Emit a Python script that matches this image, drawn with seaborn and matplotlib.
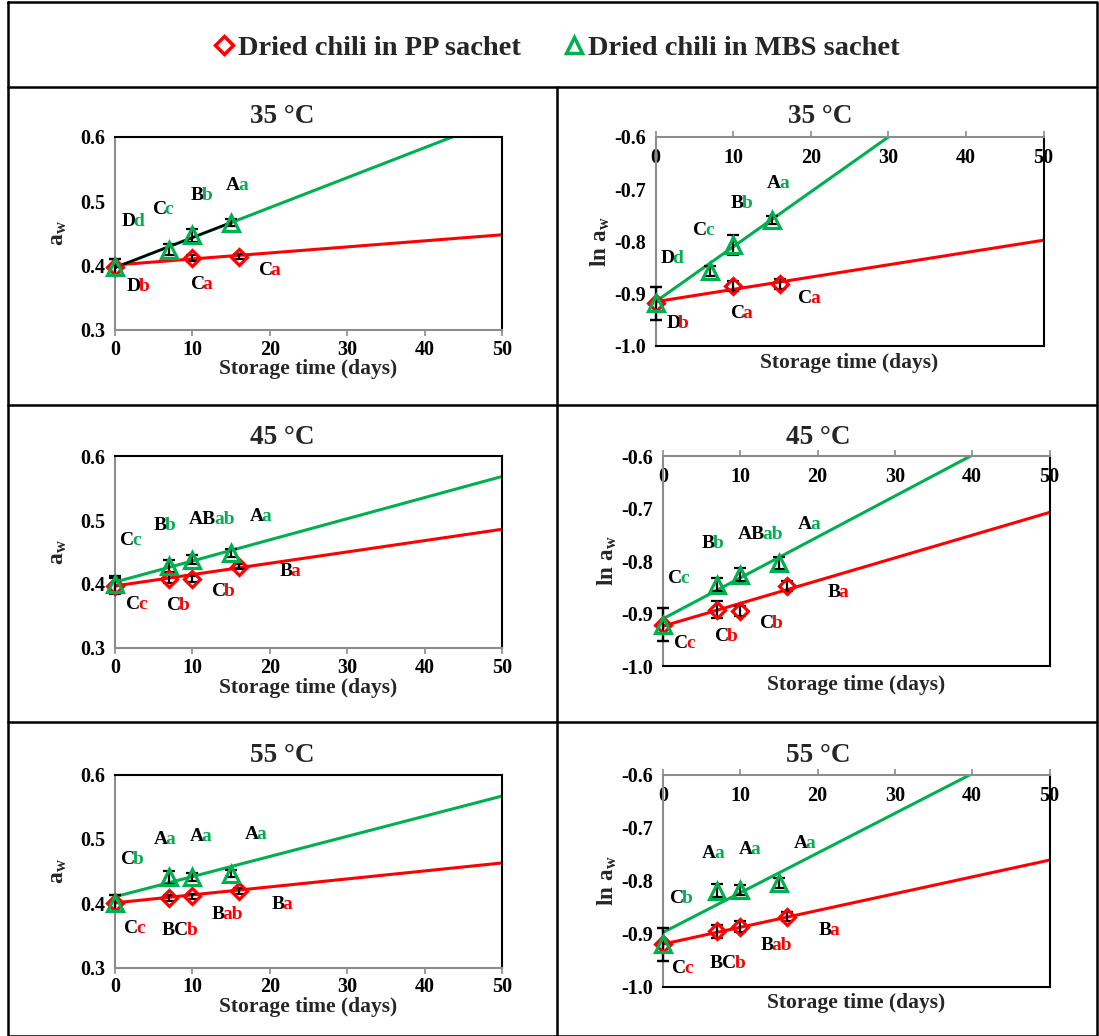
import numpy as np
import pandas as pd
import matplotlib
matplotlib.use("Agg")
import matplotlib.pyplot as plt
import matplotlib.transforms as mtransforms
import seaborn as sns
from matplotlib.lines import Line2D

# ---------------- data ----------------
days_pp_35 = [0, 10, 16]
days_pp = [0, 7, 10, 16]
days_mbs = [0, 7, 10, 15]

aw_pp_35 = [0.398, 0.412, 0.414]
aw_mbs_35 = [0.398, 0.425, 0.447, 0.467]
aw_pp_45 = [0.397, 0.408, 0.408, 0.427]
aw_mbs_45 = [0.400, 0.428, 0.438, 0.448]
aw_pp_55 = [0.400, 0.408, 0.411, 0.419]
aw_mbs_55 = [0.400, 0.440, 0.441, 0.446]

lnaw_pp_35 = [-0.919, -0.886, -0.882]
lnaw_mbs_35 = [-0.919, -0.857, -0.807, -0.759]
lnaw_pp_45 = [-0.921, -0.893, -0.895, -0.848]
lnaw_mbs_45 = [-0.921, -0.845, -0.826, -0.804]
lnaw_pp_55 = [-0.920, -0.896, -0.887, -0.868]
lnaw_mbs_55 = [-0.920, -0.819, -0.818, -0.805]

err_aw_pp_35 = [0.012, 0.005, 0.004]
err_aw_mbs_35 = [0.012, 0.008, 0.010, 0.005]
err_aw_pp_45 = [0.013, 0.006, 0.005, 0.004]
err_aw_mbs_45 = [0.013, 0.010, 0.007, 0.006]
err_aw_pp_55 = [0.012, 0.005, 0.004, 0.004]
err_aw_mbs_55 = [0.012, 0.010, 0.006, 0.006]
err_ln_pp_35 = [0.032, 0.010, 0.010]
err_ln_mbs_35 = [0.032, 0.010, 0.019, 0.008]
err_ln_pp_45 = [0.032, 0.016, 0.010, 0.010]
err_ln_mbs_45 = [0.032, 0.013, 0.012, 0.011]
err_ln_pp_55 = [0.031, 0.0125, 0.010, 0.008]
err_ln_mbs_55 = [0.031, 0.013, 0.010, 0.010]

# linear fits (intercept, slope)
fit_aw_pp = {35: (0.401, 0.00094), 45: (0.397, 0.00177), 55: (0.4005, 0.00124)}
fit_aw_mbs = {35: (0.397, 0.00466), 45: (0.403, 0.00330), 55: (0.410, 0.00313)}
fit_ln_pp = {35: (-0.916, 0.00236), 45: (-0.924, 0.00433), 55: (-0.920, 0.00317)}
fit_ln_mbs = {35: (-0.916, 0.01053), 45: (-0.910, 0.00779), 55: (-0.898, 0.00749)}
fit_aw_mbs35_short = (0.397, 0.00467)   # black segment, days 0-15
short_range = [0, 15]

# letter labels: (x, y, upper, lower, series)
lab_aw_35 = [(2.65, 0.469, "D", "d", "mbs"), (6.7, 0.487, "C", "c", "mbs"),
             (11.5, 0.509, "B", "b", "mbs"), (16.2, 0.524, "A", "a", "mbs"),
             (3.3, 0.368, "D", "b", "pp"), (11.6, 0.370, "C", "a", "pp"),
             (20.4, 0.392, "C", "a", "pp")]
lab_ln_35 = [(2.46, -0.833, "D", "d", "mbs"), (6.7, -0.779, "C", "c", "mbs"),
             (11.4, -0.728, "B", "b", "mbs"), (16.2, -0.689, "A", "a", "mbs"),
             (3.2, -0.957, "D", "b", "pp"), (11.5, -0.938, "C", "a", "pp"),
             (20.2, -0.909, "C", "a", "pp")]
lab_aw_45 = [(2.5, 0.468, "C", "c", "mbs"), (6.7, 0.492, "B", "b", "mbs"),
             (13.1, 0.5005, "AB", "ab", "mbs"), (19.2, 0.505, "A", "a", "mbs"),
             (3.25, 0.368, "C", "c", "pp"), (8.5, 0.367, "C", "b", "pp"),
             (14.3, 0.389, "C", "b", "pp"), (22.9, 0.420, "B", "a", "pp")]
lab_ln_45 = [(2.5, -0.834, "C", "c", "mbs"), (6.7, -0.7675, "B", "b", "mbs"),
             (13.2, -0.749, "AB", "ab", "mbs"), (19.3, -0.731, "A", "a", "mbs"),
             (3.3, -0.958, "C", "c", "pp"), (8.5, -0.944, "C", "b", "pp"),
             (14.4, -0.919, "C", "b", "pp"), (23.0, -0.860, "B", "a", "pp")]
lab_aw_55 = [(2.55, 0.468, "C", "b", "mbs"), (6.8, 0.4995, "A", "a", "mbs"),
             (11.5, 0.503, "A", "a", "mbs"), (18.6, 0.507, "A", "a", "mbs"),
             (3.0, 0.3606, "C", "c", "pp"), (9.5, 0.358, "BC", "b", "pp"),
             (14.2, 0.383, "B", "ab", "pp"), (21.9, 0.398, "B", "a", "pp")]
lab_ln_55 = [(2.7, -0.834, "C", "b", "mbs"), (6.9, -0.749, "A", "a", "mbs"),
             (11.6, -0.741, "A", "a", "mbs"), (18.7, -0.730, "A", "a", "mbs"),
             (3.0, -0.9655, "C", "c", "pp"), (9.6, -0.956, "BC", "b", "pp"),
             (14.3, -0.9227, "B", "ab", "pp"), (21.8, -0.8945, "B", "a", "pp")]

temps = ["35 \u00b0C", "45 \u00b0C", "55 \u00b0C"]
legend_labels = ["Dried chili in PP sachet", "Dried chili in MBS sachet"]
aw_ticks = [0.3, 0.4, 0.5, 0.6]
ln_ticks = [-1.0, -0.9, -0.8, -0.7, -0.6]
x_ticks = [0, 10, 20, 30, 40, 50]

# ---------------- style ----------------
sns.set_theme(style="white")
plt.rcParams["font.family"] = ["Liberation Serif", "DejaVu Serif"]
plt.rcParams["font.weight"] = "bold"
plt.rcParams["axes.unicode_minus"] = False
plt.rcParams["mathtext.fontset"] = "custom"
plt.rcParams["mathtext.rm"] = "Liberation Serif:bold"
plt.rcParams["mathtext.it"] = "Liberation Serif:bold"
plt.rcParams["mathtext.bf"] = "Liberation Serif:bold"

RED = "#FF0000"
GREEN = "#00B050"
GRAY = "#8C8C8C"
W, H = 1099, 1036
TICK_FS = 14.5

fig = plt.figure(figsize=(W / 100, H / 100), dpi=100)
fig.patch.set_facecolor("white")


def px_axes(left, top, right, bottom):
    return fig.add_axes([left / W, 1 - bottom / H, (right - left) / W, (bottom - top) / H])


def draw(ax, kind, dpp, ypp, epp, dm, ym, em, fpp, fm, labels, xlab_y, ylab_x):
    ax.set_facecolor("white")
    ax.set_xlim(0, 50)
    xl = np.array([0.0, 50.0])
    if kind == "aw":
        ax.set_ylim(0.3, 0.6)
        ax.set_yticks(aw_ticks)
        ax.set_yticklabels([f"{t:.1f}" for t in aw_ticks])
    else:
        ax.set_ylim(-1.0, -0.6)
        ax.set_yticks(ln_ticks)
        ax.set_yticklabels([f"{t:.1f}" for t in ln_ticks])
    sns.lineplot(x=xl, y=fpp[0] + fpp[1] * xl, color=RED, lw=2.2, ax=ax, zorder=2)
    sns.lineplot(x=xl, y=fm[0] + fm[1] * xl, color=GREEN, lw=2.2, ax=ax, zorder=2)
    ax.errorbar(dpp, ypp, yerr=epp, fmt="none", ecolor="black", elinewidth=1.6,
                capsize=4, capthick=1.6, zorder=4, clip_on=False)
    ax.errorbar(dm, ym, yerr=em, fmt="none", ecolor="black", elinewidth=1.6,
                capsize=4, capthick=1.6, zorder=4, clip_on=False)
    ax.plot(dpp, ypp, ls="none", marker="D", ms=8.5, mfc="none", mec=RED, mew=2.3,
            zorder=5, clip_on=False)
    ax.plot(dm, ym, ls="none", marker="^", ms=11.5, mfc="none", mec=GREEN, mew=2.3,
            zorder=5, clip_on=False)
    shifted = mtransforms.offset_copy(ax.transData, fig=fig, x=-1.6, y=0, units="points")
    for (x, y, up, lo, ser) in labels:
        col = GREEN if ser == "mbs" else RED
        ax.text(x, y, up, ha="right", va="center", color="black", fontsize=14,
                fontweight="bold")
        ax.text(x, y, lo, ha="left", va="center", color=col, fontsize=14,
                fontweight="bold", transform=shifted)
    ax.set_xticks(x_ticks)
    ax.set_xticklabels([str(t) for t in x_ticks])
    ax.tick_params(axis="both", labelsize=TICK_FS, colors="black", length=4, width=1.2,
                   color=GRAY, direction="out")
    ax.tick_params(axis="y", pad=3)
    for s in ax.spines.values():
        s.set_visible(True)
        s.set_linewidth(1.5)
    ax.spines["left"].set_color(GRAY)
    ax.spines["right"].set_color("black")
    if kind == "aw":
        ax.spines["bottom"].set_color(GRAY)
        ax.spines["top"].set_color("black")
        ax.tick_params(axis="x", bottom=True, top=False, pad=3)
        ax.set_ylabel(r"$\mathrm{a_w}$", fontsize=17)
    else:
        ax.spines["top"].set_color(GRAY)
        ax.spines["bottom"].set_color("black")
        ax.tick_params(axis="x", bottom=False, top=True, labelbottom=False,
                       labeltop=True, pad=-26.5)
        ax.set_ylabel(r"$\mathrm{ln\ a_w}$", fontsize=16.5)
    ax.set_xlabel("Storage time (days)", fontsize=15.5, fontweight="bold")
    ax.xaxis.set_label_coords(0.5, xlab_y)
    ax.xaxis.label.set_va("center")
    ax.yaxis.set_label_coords(ylab_x, 0.5)
    ax.yaxis.label.set_va("center")
    for t in ax.get_xticklabels() + ax.get_yticklabels():
        t.set_fontweight("bold")


# panel geometry (pixels)
ax1 = px_axes(115, 137, 502, 330)
ax2 = px_axes(655.5, 137, 1043.5, 345.5)
ax3 = px_axes(115, 456, 502, 648)
ax4 = px_axes(663, 456, 1049.5, 666)
ax5 = px_axes(115, 774.5, 502, 967.5)
ax6 = px_axes(663, 774.5, 1049.5, 986.5)

draw(ax1, "aw", days_pp_35, aw_pp_35, err_aw_pp_35, days_mbs, aw_mbs_35, err_aw_mbs_35,
     fit_aw_pp[35], fit_aw_mbs[35], lab_aw_35, -0.202, -0.147)
xs = np.array(short_range, dtype=float)
sns.lineplot(x=xs, y=fit_aw_mbs35_short[0] + fit_aw_mbs35_short[1] * xs, color="black",
             lw=1.8, ax=ax1, zorder=3)
draw(ax2, "ln", days_pp_35, lnaw_pp_35, err_ln_pp_35, days_mbs, lnaw_mbs_35, err_ln_mbs_35,
     fit_ln_pp[35], fit_ln_mbs[35], lab_ln_35, -0.084, -0.143)
draw(ax3, "aw", days_pp, aw_pp_45, err_aw_pp_45, days_mbs, aw_mbs_45, err_aw_mbs_45,
     fit_aw_pp[45], fit_aw_mbs[45], lab_aw_45, -0.208, -0.147)
draw(ax4, "ln", days_pp, lnaw_pp_45, err_ln_pp_45, days_mbs, lnaw_mbs_45, err_ln_mbs_45,
     fit_ln_pp[45], fit_ln_mbs[45], lab_ln_45, -0.09, -0.145)
draw(ax5, "aw", days_pp, aw_pp_55, err_aw_pp_55, days_mbs, aw_mbs_55, err_aw_mbs_55,
     fit_aw_pp[55], fit_aw_mbs[55], lab_aw_55, -0.205, -0.147)
draw(ax6, "ln", days_pp, lnaw_pp_55, err_ln_pp_55, days_mbs, lnaw_mbs_55, err_ln_mbs_55,
     fit_ln_pp[55], fit_ln_mbs[55], lab_ln_55, -0.078, -0.145)

# titles
title_pos = [(282, 117), (820, 117), (282, 437), (818, 437), (282, 755), (818, 755)]
title_txt = [temps[0], temps[0], temps[1], temps[1], temps[2], temps[2]]
for (x, y), t in zip(title_pos, title_txt):
    fig.text(x / W, 1 - y / H, t, ha="center", va="center", fontsize=19.5, fontweight="bold")

# legend
handles = [Line2D([], [], ls="none", marker="D", ms=9, mfc="none", mec=RED, mew=2.5),
           Line2D([], [], ls="none", marker="^", ms=12, mfc="none", mec=GREEN, mew=2.5)]
leg = fig.legend(handles, legend_labels, loc="center", bbox_to_anchor=(557 / W, 1 - 48 / H),
                 ncol=2, frameon=False, handlelength=0.7, handletextpad=0.15,
                 columnspacing=1.5, prop={"family": "Liberation Serif", "weight": "bold",
                                          "size": 20.5})

# frame lines
lw = 1.8
fig.add_artist(Line2D([8 / W, 1097 / W, 1097 / W, 8 / W, 8 / W],
                      [1 - 2 / H, 1 - 2 / H, 0, 0, 1 - 2 / H], color="black", lw=lw,
                      transform=fig.transFigure))
for yy in [87, 405, 722]:
    fig.add_artist(Line2D([8 / W, 1097 / W], [1 - yy / H, 1 - yy / H], color="black", lw=lw,
                          transform=fig.transFigure))
fig.add_artist(Line2D([557 / W, 557 / W], [1 - 87 / H, 0], color="black", lw=lw,
                      transform=fig.transFigure))

fig.savefig("out.png", dpi=100, facecolor="white")
